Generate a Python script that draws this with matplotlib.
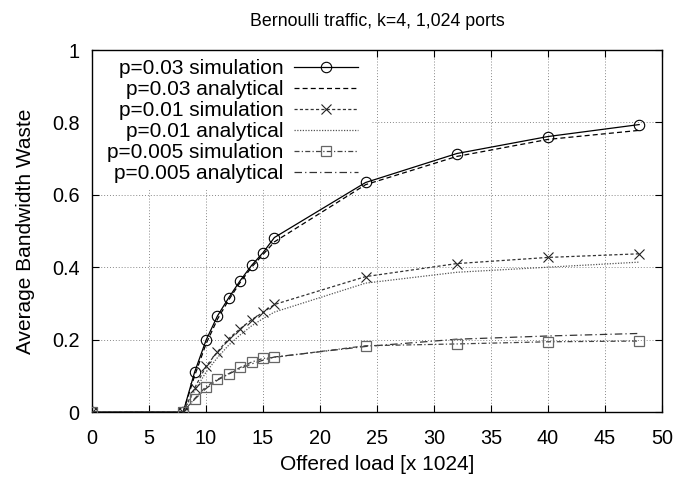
import matplotlib
matplotlib.use('Agg')
import matplotlib.pyplot as plt
from matplotlib.patches import Rectangle

plt.rcParams['font.family'] = ['Liberation Sans', 'DejaVu Sans']

# ---- data ----
x_sim = [0, 8, 9, 10, 11, 12, 13, 14, 15, 16, 24, 32, 40, 48]
sim_p03 = [0, 0, 0.110, 0.198, 0.265, 0.316, 0.363, 0.405, 0.440, 0.482, 0.634, 0.714, 0.761, 0.794]
sim_p01 = [0, 0, 0.066, 0.126, 0.166, 0.203, 0.230, 0.255, 0.275, 0.297, 0.374, 0.410, 0.427, 0.437]
sim_p005 = [0, 0, 0.037, 0.070, 0.090, 0.106, 0.123, 0.138, 0.148, 0.151, 0.183, 0.188, 0.194, 0.196]

x_ana = [8, 9, 10, 11, 12, 13, 14, 15, 16, 24, 32, 40, 48]
ana_p03 = [0, 0.100, 0.188, 0.256, 0.310, 0.358, 0.400, 0.435, 0.470, 0.628, 0.706, 0.753, 0.778]
ana_p01 = [0, 0.058, 0.110, 0.150, 0.185, 0.213, 0.238, 0.258, 0.276, 0.356, 0.386, 0.400, 0.414]
ana_p005 = [0, 0.035, 0.065, 0.088, 0.105, 0.120, 0.133, 0.143, 0.152, 0.181, 0.201, 0.210, 0.217]

x_ticks = [0, 5, 10, 15, 20, 25, 30, 35, 40, 45, 50]
y_ticks = [0, 0.2, 0.4, 0.6, 0.8, 1]
y_ticklabels = ['0', '0.2', '0.4', '0.6', '0.8', '1']

title = 'Bernoulli traffic, k=4, 1,024 ports'
xlabel = 'Offered load [x 1024]'
ylabel = 'Average Bandwidth Waste'

# ---- figure ----
fig = plt.figure(figsize=(6.74, 4.79), dpi=100)
ax = fig.add_axes([92 / 674, 1 - 412 / 479, 570 / 674, 362 / 479])

lw = 0.9
ax.plot(x_sim, sim_p03, color='black', lw=lw, marker='o', ms=7.5, mfc='none',
        mec='black', mew=0.8, label='p=0.03 simulation', zorder=6)
ax.plot(x_ana, ana_p03, color='black', lw=lw, dashes=(4, 2.5),
        label='p=0.03 analytical', zorder=5)
ax.plot(x_sim, sim_p01, color='#333333', lw=lw, dashes=(2.5, 1.8), marker='x',
        ms=7.5, mec='#222222', mew=0.8, label='p=0.01 simulation', zorder=6)
ax.plot(x_ana, ana_p01, color='#555555', lw=lw, dashes=(1, 1.2),
        label='p=0.01 analytical', zorder=5)
ax.plot(x_sim, sim_p005, color='#444444', lw=lw, dashes=(4, 1.8, 1, 1.8),
        marker='s', ms=7.2, mfc='none', mec='#666666', mew=0.9,
        label='p=0.005 simulation', zorder=6)
ax.plot(x_ana, ana_p005, color='#333333', lw=lw, dashes=(6, 2.5, 1, 2.5),
        label='p=0.005 analytical', zorder=5)

ax.set_xlim(0, 50)
ax.set_ylim(0, 1)
ax.set_xticks(x_ticks)
ax.set_yticks(y_ticks)
ax.set_yticklabels(y_ticklabels)
ax.tick_params(direction='in', length=5, width=0.8, top=True, right=True,
               labelsize=14.3, color='black')
ax.tick_params(axis='x', pad=12)
ax.tick_params(axis='y', pad=9)
ax.grid(True, color='#888888', linestyle=(0, (1, 2)), lw=0.7)
ax.set_axisbelow(True)
for s in ax.spines.values():
    s.set_linewidth(1.0)

# white area behind the key (hides grid, as in the original)
ax.add_patch(Rectangle((0, 0.613), 0.491, 0.387, transform=ax.transAxes,
                       facecolor='white', edgecolor='none', zorder=1))

ax.set_title(title, fontsize=12.8, pad=17)
ax.set_xlabel(xlabel, fontsize=15, labelpad=5)
ax.set_ylabel(ylabel, fontsize=15, labelpad=12)

leg = ax.legend(loc='upper right', bbox_to_anchor=(0.467, 0.975), frameon=False,
                markerfirst=False, fontsize=15, handlelength=3.1,
                handletextpad=0.5, labelspacing=0.1, borderpad=0,
                borderaxespad=0)

fig.savefig('out.png', dpi=100)
